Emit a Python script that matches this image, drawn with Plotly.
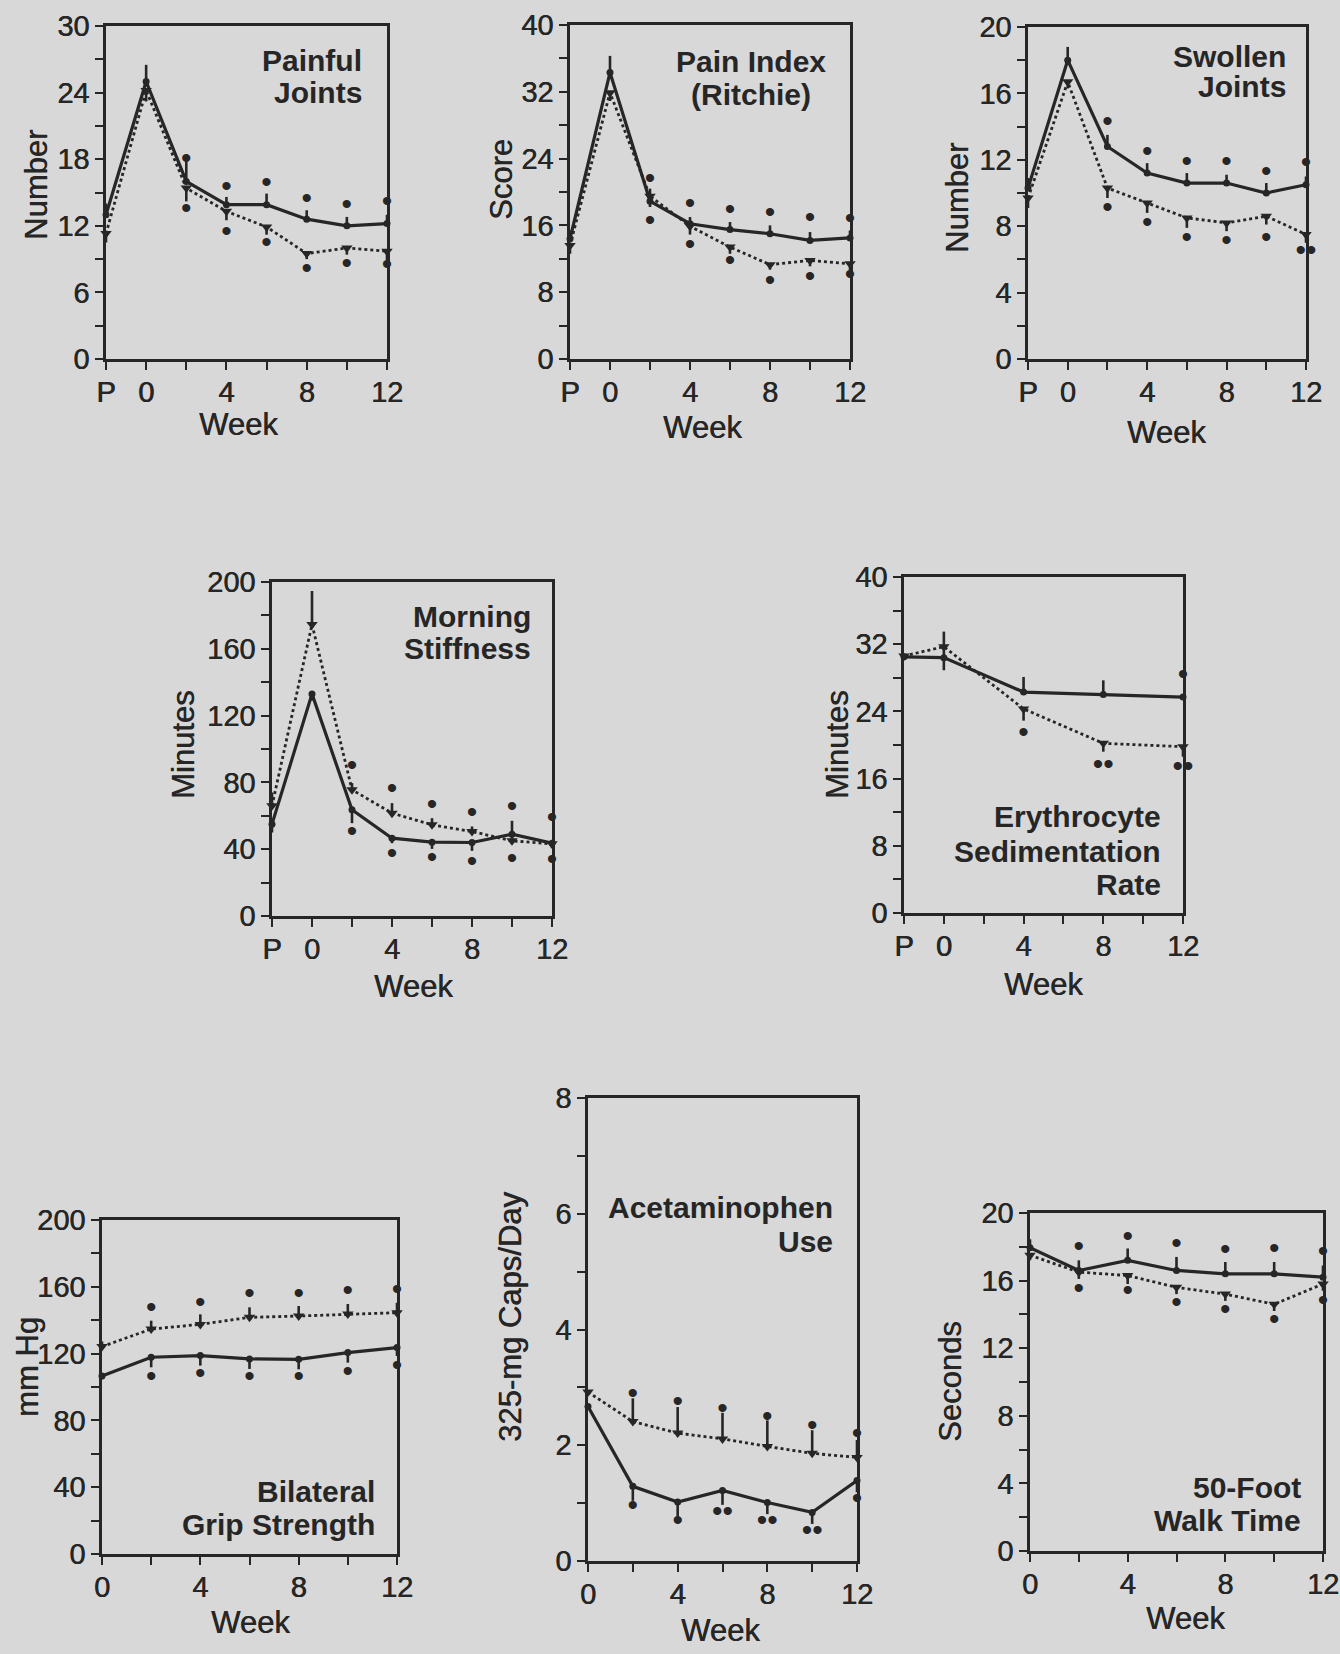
import plotly.graph_objects as go

W, H = 1340, 1654
INK = '#262626'
BG = '#d8d8d8'
FONT = 'Liberation Sans, Arial, Helvetica, sans-serif'
THICK = '0.6px 0px 0px #262626'

# ---------------- data ----------------
weeks_p = [-2, 0, 2, 4, 6, 8, 10, 12]      # -2 = pretreatment "P"
weeks = [0, 2, 4, 6, 8, 10, 12]
weeks_marks = [2, 4, 6, 8, 10, 12]
esr_weeks = [-2, 0, 4, 8, 12]

xtick_vals_p = [-2, 0, 2, 4, 6, 8, 10, 12]
xtick_text_p = ['P', '0', '', '4', '', '8', '', '12']
xtick_vals = [0, 2, 4, 6, 8, 10, 12]
xtick_text = ['0', '', '4', '', '8', '', '12']

# Painful joints
painful_solid = [13.0, 25.0, 16.0, 13.9, 13.9, 12.6, 12.0, 12.2]
painful_solid_up = [1.0, 1.5, 2.0, 0.7, 1.0, 0.8, 0.8, 0.8]
painful_dotted = [11.3, 24.2, 15.4, 13.3, 11.9, 9.5, 10.0, 9.7]
painful_dotted_down = [0.8, 1.0, 1.2, 0.8, 0.7, 0.5, 0.6, 0.8]
painful_hi = [17.9, 15.4, 15.7, 14.3, 13.7, 14.0]
painful_lo = [13.4, 11.3, 10.3, 8.0, 8.4, 8.3]

# Pain index (Ritchie)
pain_solid = [14.4, 34.3, 18.9, 16.2, 15.5, 15.0, 14.2, 14.5]
pain_solid_up = [1.0, 2.0, 1.5, 0.8, 0.9, 1.0, 1.0, 0.9]
pain_dotted = [13.6, 31.9, 19.5, 15.9, 13.4, 11.3, 11.8, 11.4]
pain_dotted_down = [1.0, 1.0, 1.3, 1.0, 0.8, 0.6, 0.7, 0.8]
pain_hi = [21.4, 18.4, 17.7, 17.3, 16.7, 16.6]
pain_lo = [16.4, 13.5, 11.6, 9.2, 9.7, 9.9]

# Swollen joints
swollen_solid = [10.3, 18.0, 12.8, 11.2, 10.6, 10.6, 10.0, 10.5]
swollen_solid_up = [0.6, 0.8, 0.7, 0.6, 0.6, 0.5, 0.6, 0.5]
swollen_dotted = [9.7, 16.7, 10.3, 9.4, 8.5, 8.2, 8.6, 7.5]
swollen_dotted_down = [0.6, 0.4, 0.6, 0.6, 0.6, 0.5, 0.5, 0.5]
swollen_hi = [14.2, 12.4, 11.8, 11.8, 11.2, 11.7]
swollen_lo = [9.0, 8.1, 7.2, 7.0, 7.2, 6.4]
swollen_lo_marks = ['•', '•', '•', '•', '•', '••']

# Morning stiffness
stiff_solid = [55.0, 133.0, 63.6, 46.6, 44.2, 44.0, 49.0, 43.6]
stiff_solid_up = [0, 0, 0, 0, 0, 0, 8, 0]
stiff_solid_down = [5, 4, 8, 3, 4, 5, 3, 3]
stiff_dotted = [66.0, 174.6, 75.6, 61.6, 54.6, 50.6, 45.0, 43.2]
stiff_dotted_up = [8, 20, 4, 6, 4, 3, 0, 0]
stiff_hi = [89.0, 75.0, 65.6, 61.0, 64.6, 58.0]
stiff_lo = [49.6, 36.0, 33.6, 31.6, 33.2, 32.6]

# Erythrocyte sedimentation rate
esr_solid = [30.5, 30.4, 26.3, 26.0, 25.7]
esr_solid_up = [0, 3.1, 1.8, 1.7, 0]
esr_solid_down = [0, 1.5, 0, 0, 0]
esr_dotted = [30.6, 31.7, 24.3, 20.2, 19.8]
esr_dotted_down = [0, 0, 1.4, 1.0, 1.2]
esr_star_x = [4, 8, 12, 12]
esr_star_y = [21.3, 17.5, 17.2, 28.1]
esr_star_marks = ['•', '••', '••', '•']

# Bilateral grip strength
grip_solid = [106.6, 117.8, 118.8, 116.8, 116.6, 120.6, 123.6]
grip_solid_down = [2, 6, 6, 6, 6, 6, 5]
grip_dotted = [124.2, 134.7, 137.5, 141.7, 142.5, 143.7, 144.5]
grip_dotted_up = [3, 5, 6, 6, 6, 6, 6]
grip_hi = [146.7, 149.5, 154.5, 155.0, 156.7, 157.0]
grip_lo = [105.2, 106.8, 104.8, 104.8, 108.2, 111.8]

# Acetaminophen use
acet_solid = [2.67, 1.29, 1.02, 1.22, 1.01, 0.84, 1.39]
acet_solid_down = [0, 0.25, 0.25, 0.25, 0.2, 0.2, 0.2]
acet_dotted = [2.92, 2.41, 2.21, 2.11, 1.98, 1.86, 1.79]
acet_dotted_up = [0, 0.4, 0.45, 0.45, 0.45, 0.4, 0.3]
acet_hi = [2.86, 2.73, 2.60, 2.46, 2.31, 2.17]
acet_lo = [0.93, 0.66, 0.82, 0.67, 0.49, 1.04]
acet_lo_marks = ['•', '•', '••', '••', '••', '•']

# 50-foot walk time
walk_solid = [17.95, 16.6, 17.2, 16.6, 16.4, 16.4, 16.2]
walk_solid_up = [0.5, 0.6, 0.7, 0.8, 0.7, 0.7, 0.7]
walk_dotted = [17.5, 16.5, 16.3, 15.6, 15.2, 14.6, 15.8]
walk_dotted_down = [0.3, 0.4, 0.5, 0.4, 0.4, 0.4, 0.4]
walk_hi = [17.9, 18.5, 18.1, 17.7, 17.8, 17.6]
walk_lo = [15.4, 15.3, 14.6, 14.2, 13.6, 14.7]

# ---------------- layout helpers ----------------
def px(x):
    return x / W


def py(y):
    return 1 - y / H


def zeros(n):
    return [0] * n


panels = [
    dict(box=(106, 26, 387, 359), xr=[-2, 12], yr=[0, 30], ydt=3, ylab=6,
         xv=xtick_vals_p, xt=xtick_text_p,
         title=[('Painful', 364, 60), ('Joints', 364, 93)], tal='right',
         ytitle='Number', ytpos=(37, 185), wpos=(238, 424),
         series=[(weeks_p, painful_solid, painful_solid_up, zeros(8), 'solid'),
                 (weeks_p, painful_dotted, zeros(8), painful_dotted_down, 'dot')],
         marks=[(weeks_marks, painful_hi, None), (weeks_marks, painful_lo, None)]),
    dict(box=(570, 25, 850, 359), xr=[-2, 12], yr=[0, 40], ydt=4, ylab=8,
         xv=xtick_vals_p, xt=xtick_text_p,
         title=[('Pain Index', 751, 61), ('(Ritchie)', 751, 94)], tal='center',
         ytitle='Score', ytpos=(502, 180), wpos=(703, 427),
         series=[(weeks_p, pain_solid, pain_solid_up, zeros(8), 'solid'),
                 (weeks_p, pain_dotted, zeros(8), pain_dotted_down, 'dot')],
         marks=[(weeks_marks, pain_hi, None), (weeks_marks, pain_lo, None)]),
    dict(box=(1028, 27, 1306, 359), xr=[-2, 12], yr=[0, 20], ydt=2, ylab=4,
         xv=xtick_vals_p, xt=xtick_text_p,
         title=[('Swollen', 1288, 56), ('Joints', 1288, 86)], tal='right',
         ytitle='Number', ytpos=(957, 198), wpos=(1166, 432),
         series=[(weeks_p, swollen_solid, swollen_solid_up, zeros(8), 'solid'),
                 (weeks_p, swollen_dotted, zeros(8), swollen_dotted_down, 'dot')],
         marks=[(weeks_marks, swollen_hi, None), (weeks_marks, swollen_lo, swollen_lo_marks)]),
    dict(box=(272, 582, 552, 916), xr=[-2, 12], yr=[0, 200], ydt=20, ylab=40,
         xv=xtick_vals_p, xt=xtick_text_p,
         title=[('Morning', 533, 616), ('Stiffness', 533, 648)], tal='right',
         ytitle='Minutes', ytpos=(183, 745), wpos=(413, 986),
         series=[(weeks_p, stiff_solid, stiff_solid_up, stiff_solid_down, 'solid'),
                 (weeks_p, stiff_dotted, stiff_dotted_up, zeros(8), 'dot')],
         marks=[(weeks_marks, stiff_hi, None), (weeks_marks, stiff_lo, None)]),
    dict(box=(904, 577, 1183, 913), xr=[-2, 12], yr=[0, 40], ydt=4, ylab=8,
         xv=xtick_vals_p, xt=xtick_text_p,
         title=[('Erythrocyte', 1163, 816), ('Sedimentation', 1163, 851), ('Rate', 1163, 884)],
         tal='right',
         ytitle='Minutes', ytpos=(837, 745), wpos=(1043, 984),
         series=[(esr_weeks, esr_solid, esr_solid_up, esr_solid_down, 'solid'),
                 (esr_weeks, esr_dotted, zeros(5), esr_dotted_down, 'dot')],
         marks=[(esr_star_x, esr_star_y, esr_star_marks)]),
    dict(box=(102, 1220, 397, 1554), xr=[0, 12], yr=[0, 200], ydt=20, ylab=40,
         xv=xtick_vals, xt=xtick_text,
         title=[('Bilateral', 377, 1491), ('Grip Strength', 377, 1524)], tal='right',
         ytitle='mm Hg', ytpos=(27, 1367), wpos=(250, 1622),
         series=[(weeks, grip_solid, zeros(7), grip_solid_down, 'solid'),
                 (weeks, grip_dotted, grip_dotted_up, zeros(7), 'dot')],
         marks=[(weeks_marks, grip_hi, None), (weeks_marks, grip_lo, None)]),
    dict(box=(588, 1098, 857, 1561), xr=[0, 12], yr=[0, 8], ydt=1, ylab=2,
         xv=xtick_vals, xt=xtick_text,
         title=[('Acetaminophen', 835, 1207), ('Use', 835, 1241)], tal='right',
         ytitle='325-mg Caps/Day', ytpos=(510, 1317), wpos=(720, 1630),
         series=[(weeks, acet_solid, zeros(7), acet_solid_down, 'solid'),
                 (weeks, acet_dotted, acet_dotted_up, zeros(7), 'dot')],
         marks=[(weeks_marks, acet_hi, None), (weeks_marks, acet_lo, acet_lo_marks)]),
    dict(box=(1030, 1213, 1323, 1551), xr=[0, 12], yr=[0, 20], ydt=2, ylab=4,
         xv=xtick_vals, xt=xtick_text,
         title=[('50-Foot', 1303, 1487), ('Walk Time', 1303, 1520)], tal='right',
         ytitle='Seconds', ytpos=(950, 1382), wpos=(1185, 1618),
         series=[(weeks, walk_solid, walk_solid_up, zeros(7), 'solid'),
                 (weeks, walk_dotted, zeros(7), walk_dotted_down, 'dot')],
         marks=[(weeks_marks, walk_hi, None), (weeks_marks, walk_lo, None)]),
]

fig = go.Figure()
layout = dict(width=W, height=H, autosize=False, margin=dict(l=0, r=0, t=0, b=0, pad=0),
              paper_bgcolor=BG, plot_bgcolor=BG, showlegend=False,
              font=dict(family=FONT, color=INK))
annotations = []

for i, p in enumerate(panels, start=1):
    l, t, r, b = p['box']
    xa = 'x' if i == 1 else f'x{i}'
    ya = 'y' if i == 1 else f'y{i}'
    yvals = []
    v = p['yr'][0]
    while v <= p['yr'][1] + 1e-9:
        yvals.append(v)
        v += p['ydt']
    ytext = [(f'{v:g}' if abs(v / p['ylab'] - round(v / p['ylab'])) < 1e-6 else '') for v in yvals]
    axis_common = dict(showline=True, linecolor=INK, linewidth=2.6, mirror=True,
                       showgrid=False, zeroline=False, ticks='outside', ticklen=8,
                       tickwidth=2.2, tickcolor=INK, automargin=False,
                       tickfont=dict(family=FONT, size=29, color=INK, shadow=THICK))
    layout['xaxis' if i == 1 else f'xaxis{i}'] = dict(
        axis_common, domain=[px(l), px(r)], range=p['xr'], anchor=ya,
        tickmode='array', tickvals=p['xv'], ticktext=p['xt'], ticklabelstandoff=-3)
    layout['yaxis' if i == 1 else f'yaxis{i}'] = dict(
        axis_common, domain=[py(b), py(t)], range=p['yr'], anchor=xa,
        tickmode='array', tickvals=yvals, ticktext=ytext)

    for xs, ys, up, down, style in p['series']:
        fig.add_trace(go.Scatter(
            x=xs, y=ys, xaxis=xa, yaxis=ya, mode='lines+markers', cliponaxis=False,
            line=dict(color=INK, width=3.2 if style == 'solid' else 2.8, dash=style),
            marker=dict(color=INK, size=7 if style == 'solid' else 10,
                        symbol='circle' if style == 'solid' else 'triangle-down'),
            error_y=dict(type='data', symmetric=False, array=up, arrayminus=down,
                         width=0, thickness=2.6, color=INK)))
    for xs, ys, labels in p['marks']:
        fig.add_trace(go.Scatter(
            x=xs, y=ys, xaxis=xa, yaxis=ya, mode='text', cliponaxis=False,
            text=labels if labels else ['•'] * len(xs), textposition='middle center',
            textfont=dict(family=FONT, size=30, color=INK)))

    for txt, tx, ty in p['title']:
        annotations.append(dict(
            text=f"<b>{txt}</b>", x=px(tx), y=py(ty), xref='paper', yref='paper',
            xanchor=p['tal'], yanchor='middle', showarrow=False,
            font=dict(family=FONT, size=30, color=INK)))
    yx, yy = p['ytpos']
    annotations.append(dict(
        text=p['ytitle'], x=px(yx), y=py(yy), xref='paper', yref='paper',
        xanchor='center', yanchor='middle', textangle=-90, showarrow=False,
        font=dict(family=FONT, size=31, color=INK, shadow=THICK)))
    wx, wy = p['wpos']
    annotations.append(dict(
        text='Week', x=px(wx), y=py(wy), xref='paper', yref='paper',
        xanchor='center', yanchor='middle', showarrow=False,
        font=dict(family=FONT, size=31, color=INK, shadow=THICK)))

layout['annotations'] = annotations
fig.update_layout(**layout)
fig.write_html('out.html',
               config={'displayModeBar': False, 'responsive': False},
               post_script="document.body.style.margin='0px';"
                           "document.body.style.padding='0px';"
                           "document.body.style.overflow='hidden';"
                           "document.documentElement.style.overflow='hidden';"
                           "document.body.style.background='%s';" % BG)
